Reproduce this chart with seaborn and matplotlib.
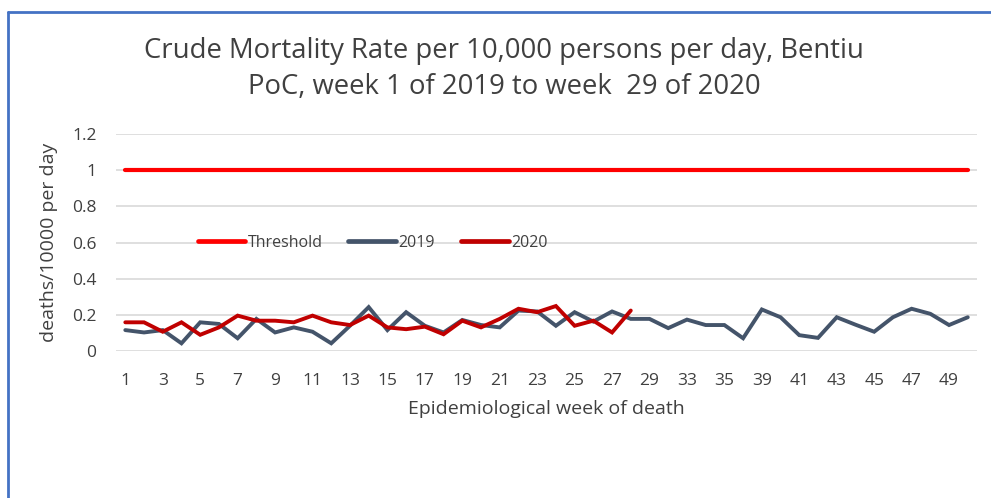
import pandas as pd
import numpy as np
import matplotlib.pyplot as plt
import seaborn as sns

# Epidemiological weeks on the category axis (a few weeks have no data)
weeks = [str(w) for w in list(range(1, 29)) + [29, 31, 33, 34, 35, 37, 39, 40, 41,
                                                 42, 43, 44, 45, 46, 47, 48, 49, 50]]

threshold = [1.0] * len(weeks)

cmr_2019 = [0.116, 0.103, 0.116, 0.043, 0.159, 0.150, 0.071, 0.178, 0.103, 0.131,
            0.107, 0.043, 0.140, 0.243, 0.116, 0.215, 0.140, 0.103, 0.172, 0.144,
            0.131, 0.224, 0.219, 0.140, 0.215, 0.163, 0.219, 0.178, 0.178, 0.127,
            0.174, 0.144, 0.144, 0.071, 0.230, 0.187, 0.088, 0.073, 0.187, 0.146,
            0.107, 0.187, 0.234, 0.206, 0.144, 0.187]

cmr_2020 = [0.159, 0.159, 0.107, 0.159, 0.090, 0.131, 0.196, 0.168, 0.168, 0.159,
            0.196, 0.159, 0.144, 0.196, 0.131, 0.121, 0.135, 0.093, 0.168, 0.131,
            0.178, 0.234, 0.215, 0.249, 0.140, 0.168, 0.103, 0.224]

series_names = ["Threshold", "2019", "2020"]
colors = ["#FF0000", "#44546A", "#C00000"]

# long format table for seaborn
df = pd.concat([
    pd.DataFrame({"week": weeks, "value": threshold, "series": "Threshold"}),
    pd.DataFrame({"week": weeks, "value": cmr_2019, "series": "2019"}),
    pd.DataFrame({"week": weeks[:len(cmr_2020)], "value": cmr_2020, "series": "2020"}),
], ignore_index=True)

sns.set_style("white")
plt.rcParams["font.family"] = ["Open Sans", "DejaVu Sans"]
text_col = "#404040"

fig = plt.figure(figsize=(9.91, 4.98), dpi=100)
ax = fig.add_axes([0.117, 0.295, 0.869, 0.436])

sns.lineplot(data=df, x="week", y="value", hue="series", hue_order=series_names,
             palette=colors, linewidth=2.8, sort=False, ax=ax, legend=False)
ax.lines[0].set_linewidth(3.0)
for ln in ax.lines:
    ln.set_solid_capstyle("round")
    ln.set_solid_joinstyle("miter")

ax.set_xlim(-0.5, len(weeks) - 0.5)
ax.set_ylim(0, 1.2)
ax.set_yticks(np.arange(0, 1.21, 0.2))
ax.set_yticklabels(["0", "0.2", "0.4", "0.6", "0.8", "1", "1.2"])
ax.set_xticks(range(0, len(weeks), 2))
ax.set_xticklabels(weeks[::2])
ax.tick_params(axis="both", length=0, labelsize=12.5, colors=text_col)
ax.tick_params(axis="x", pad=16)
ax.tick_params(axis="y", pad=14)
ax.grid(axis="y", color="#D9D9D9", linewidth=1.2)
ax.set_axisbelow(True)
for s in ax.spines.values():
    s.set_visible(False)

ax.set_xlabel("Epidemiological week of death", fontsize=14, color=text_col, labelpad=8)
ax.set_ylabel("deaths/10000 per day", fontsize=14, color=text_col, labelpad=10)

fig.text(0.509, 0.897, "Crude Mortality Rate per 10,000 persons per day, Bentiu",
         ha="center", va="center", fontsize=19.8, color=text_col)
fig.text(0.509, 0.825, "PoC, week 1 of 2019 to week  29 of 2020",
         ha="center", va="center", fontsize=19.8, color=text_col)

handles = [plt.Line2D([], [], color=c, linewidth=3.4, solid_capstyle="round")
           for c in colors]
ax.legend(handles, series_names, loc="center", bbox_to_anchor=(0.298, 0.50), ncol=3,
          frameon=False, fontsize=11.5, handlelength=3.0, handletextpad=0.15,
          columnspacing=1.6, labelcolor=text_col)

# blue chart-area border (left and top edges visible in the crop)
fig.add_artist(plt.Line2D([8 / 991, 8 / 991], [0, 1 - 12 / 498], color="#4472C4",
                          linewidth=2, transform=fig.transFigure))
fig.add_artist(plt.Line2D([8 / 991, 1], [1 - 12 / 498, 1 - 12 / 498], color="#4472C4",
                          linewidth=2, transform=fig.transFigure))

fig.savefig("out.png", dpi=100)
